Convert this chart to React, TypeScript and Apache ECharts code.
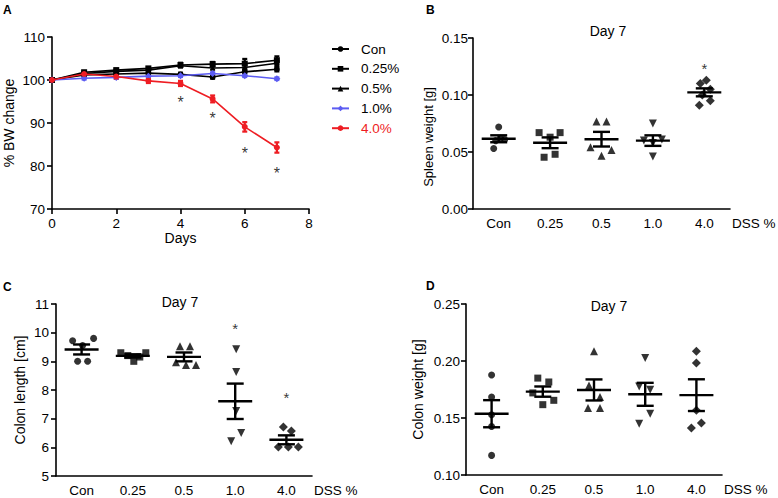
import React, { useEffect, useRef } from 'react';
import * as echarts from 'echarts';

const FONT = 'Arial, "Liberation Sans", Helvetica, sans-serif';
const RED = '#ee1d23';
const BLUE = '#5c5cf2';
const BLACK = '#000000';

// ---------- Panel A: body weight change ----------
const days = [0, 1, 2, 3, 4, 5, 6, 7];
const bwNames = ['Con', '0.25%', '0.5%', '1.0%', '4.0%'];
const bwCon = [100, 101.2, 101.4, 101.6, 101.3, 100.7, 101.9, 102.5];
const bw025 = [100, 101.8, 102.3, 102.7, 103.5, 103.7, 103.8, 104.6];
const bw05 = [100, 101.5, 102.0, 102.3, 103.3, 102.8, 102.9, 103.9];
const bw10 = [100, 100.4, 100.6, 100.9, 101.0, 101.5, 101.0, 100.3];
const bw40 = [100, 101.4, 100.8, 99.8, 99.2, 95.6, 89.1, 84.3];
const bwConErr = [0, 0.3, 0.3, 0.3, 0.4, 0.4, 0.4, 0.5];
const bw025Err = [0, 0.3, 0.3, 0.3, 0.5, 0.5, 1.1, 0.9];
const bw05Err = [0, 0.3, 0.3, 0.3, 0.4, 0.4, 0.5, 0.5];
const bw10Err = [0, 0.3, 0.3, 0.3, 0.3, 0.3, 0.3, 0.3];
const bw40Err = [0, 0.4, 0.5, 0.5, 0.6, 0.8, 1.1, 1.2];
const bwSigDays = [4, 5, 6, 7];
const bwSigPos = [95.6, 92.0, 83.9, 79.1];

// ---------- Panels B-D: day 7 column scatter ----------
const groups = ['Con', '0.25', '0.5', '1.0', '4.0'];

const spleenCon = [0.072, 0.053, 0.062, 0.061, 0.06];
const spleen025 = [0.067, 0.067, 0.063, 0.0454, 0.048];
const spleen05 = [0.0767, 0.0767, 0.0542, 0.0518, 0.0468];
const spleen10 = [0.075, 0.06, 0.061, 0.058, 0.046];
const spleen40 = [0.113, 0.11, 0.105, 0.1, 0.095, 0.091];
const spleenSigGroups = [4];
const spleenSigPos = [0.1265];

const lengthCon = [9.72, 9.8, 9.0, 9.0, 9.55];
const length025 = [9.3, 9.3, 9.2, 9.15, 9.0];
const length05 = [9.53, 9.53, 8.97, 8.87, 8.87];
const length10 = [9.42, 8.63, 7.27, 6.5, 6.21];
const length40 = [6.71, 6.57, 6.01, 6.01, 6.01];
const lengthSigGroups = [3, 4];
const lengthSigPos = [10.27, 7.88];

const cweightCon = [0.1877, 0.1684, 0.1529, 0.1426, 0.1172];
const cweight025 = [0.185, 0.1816, 0.172, 0.1655, 0.1617];
const cweight05 = [0.2085, 0.1786, 0.1684, 0.1588, 0.1588];
const cweight10 = [0.2026, 0.1777, 0.1748, 0.1538, 0.145];
const cweight40 = [0.2085, 0.1982, 0.1567, 0.1456, 0.1412];

// horizontal spread of the dots (pixels), as in the original scatter
const spleenJitter = [[0, -5, 2, 6, -3], [-11, 10, 0, -6, 5], [-5, 5, -11, 10, 0], [0, -9, 9, 0, 0], [2, -4, 6, -2, 6, -5]];
const lengthJitter = [[-9, 12, -4, 6, 1], [-12, 13, -5, 7, 1], [-4, 6, -8, 2, 12], [1, 1, 1, 6, -4], [-3, 5, -8, 2, 12]];
const cweightJitter = [[0, 0, 0, 0, 0], [-5, 6, -10, 11, 0], [0, -5, 6, -6, 6], [0, -6, 5, 5, -6], [0, 0, 0, 5, -5]];

const SYMBOLS = ['circle', 'rect', 'triangle', 'triangle', 'diamond'];
const SYMSIZE = [7, 7, 8, 8, 9];

const mean = (a: number[]) => a.reduce((s, v) => s + v, 0) / a.length;
const sem = (a: number[]) => {
  const m = mean(a);
  const v = a.reduce((s, x) => s + (x - m) * (x - m), 0) / (a.length - 1);
  return Math.sqrt(v) / Math.sqrt(a.length);
};

const axisLine = { show: true, onZero: false, lineStyle: { color: BLACK, width: 1.6 } };
const axisTick = { show: true, length: 5, lineStyle: { color: BLACK, width: 1.6 } };
const labelStyle = { color: BLACK, fontFamily: FONT, fontSize: 13.5 };
const nameStyle = { color: BLACK, fontFamily: FONT, fontSize: 14 };

function semRender(params: any, api: any) {
  const x = api.value(0);
  const m = api.value(1);
  const s = api.value(2);
  const pm = api.coord([x, m]);
  const ph = api.coord([x, m + s]);
  const pl = api.coord([x, m - s]);
  const style = { stroke: BLACK, lineWidth: 2.4 };
  return {
    type: 'group',
    children: [
      { type: 'line', shape: { x1: pm[0] - 17, y1: pm[1], x2: pm[0] + 17, y2: pm[1] }, style },
      { type: 'line', shape: { x1: ph[0], y1: ph[1], x2: pl[0], y2: pl[1] }, style },
      { type: 'line', shape: { x1: ph[0] - 8.5, y1: ph[1], x2: ph[0] + 8.5, y2: ph[1] }, style },
      { type: 'line', shape: { x1: pl[0] - 8.5, y1: pl[1], x2: pl[0] + 8.5, y2: pl[1] }, style },
    ],
  };
}

function errRender(color: string) {
  return (params: any, api: any) => {
    const x = api.value(0);
    const lo = api.coord([x, api.value(1)]);
    const hi = api.coord([x, api.value(2)]);
    const style = { stroke: color, lineWidth: 2.2 };
    return {
      type: 'group',
      children: [
        { type: 'line', shape: { x1: lo[0], y1: lo[1], x2: hi[0], y2: hi[1] }, style },
        { type: 'line', shape: { x1: lo[0] - 2.5, y1: lo[1], x2: lo[0] + 2.5, y2: lo[1] }, style },
        { type: 'line', shape: { x1: hi[0] - 2.5, y1: hi[1], x2: hi[0] + 2.5, y2: hi[1] }, style },
      ],
    };
  };
}

function sigSeries(xIdx: number, yIdx: number, xs: number[], ys: number[], size: number) {
  return {
    type: 'scatter',
    xAxisIndex: xIdx,
    yAxisIndex: yIdx,
    symbol: 'circle',
    symbolSize: 0.1,
    itemStyle: { color: 'rgba(0,0,0,0)' },
    silent: true,
    z: 5,
    label: {
      show: true,
      position: 'inside',
      formatter: '*',
      color: BLACK,
      fontFamily: FONT,
      fontSize: size,
      offset: [0, size * 0.24],
    },
    data: xs.map((x, i) => [x, ys[i]]),
  };
}

function columnPanel(idx: number, vals: number[][], jitter: number[][], sigGroups: number[], sigPos: number[]) {
  const points: any[] = [];
  vals.forEach((arr, gi) => {
    arr.forEach((v, j) => {
      points.push({
        value: [gi, v],
        symbol: SYMBOLS[gi],
        symbolSize: SYMSIZE[gi],
        symbolRotate: gi === 3 ? 180 : 0,
        symbolOffset: [jitter[gi][j], 0],
      });
    });
  });
  const stats = vals.map((arr, gi) => [gi, mean(arr), sem(arr)]);
  const out: any[] = [
    {
      type: 'scatter',
      xAxisIndex: idx,
      yAxisIndex: idx,
      itemStyle: { color: BLACK },
      data: points,
      z: 3,
    },
    {
      type: 'custom',
      xAxisIndex: idx,
      yAxisIndex: idx,
      renderItem: semRender,
      data: stats,
      z: 4,
    },
  ];
  if (sigGroups.length) out.push(sigSeries(idx, idx, sigGroups, sigPos, 15));
  return out;
}

const bwVals = [bwCon, bw025, bw05, bw10, bw40];
const bwErrs = [bwConErr, bw025Err, bw05Err, bw10Err, bw40Err];
const bwColors = [BLACK, BLACK, BLACK, BLUE, RED];
const bwSymbols = ['circle', 'rect', 'triangle', 'diamond', 'circle'];
const bwSymSize = [6, 6, 4, 7, 6];

function buildOption() {
  const series: any[] = [];
  bwVals.forEach((vals, i) => {
    series.push({
      type: 'custom',
      name: bwNames[i] + ' err',
      xAxisIndex: 0,
      yAxisIndex: 0,
      renderItem: errRender(bwColors[i]),
      data: days.map((d, k) => [d, vals[k] - bwErrs[i][k], vals[k] + bwErrs[i][k]]),
      z: 2 + i * 0.1,
    });
    series.push({
      type: 'line',
      name: bwNames[i],
      xAxisIndex: 0,
      yAxisIndex: 0,
      data: days.map((d, k) => [d, vals[k]]),
      symbol: bwSymbols[i],
      symbolSize: bwSymSize[i],
      showAllSymbol: true,
      color: bwColors[i],
      lineStyle: { color: bwColors[i], width: 1.6 },
      itemStyle: { color: bwColors[i] },
      z: 3 + i * 0.1,
    });
  });
  series.push(sigSeries(0, 0, bwSigDays, bwSigPos, 16));

  series.push(...columnPanel(1, [spleenCon, spleen025, spleen05, spleen10, spleen40], spleenJitter, spleenSigGroups, spleenSigPos));
  series.push(...columnPanel(2, [lengthCon, length025, length05, length10, length40], lengthJitter, lengthSigGroups, lengthSigPos));
  series.push(...columnPanel(3, [cweightCon, cweight025, cweight05, cweight10, cweight40], cweightJitter, [], []));

  const catAxis = (gi: number) => ({
    type: 'category',
    gridIndex: gi,
    data: groups,
    boundaryGap: true,
    axisLine,
    axisTick: { show: false },
    axisLabel: { ...labelStyle, margin: 7 },
    splitLine: { show: false },
    name: 'DSS %',
    nameLocation: 'end',
    nameGap: 2,
    nameTextStyle: { ...labelStyle, fontSize: 13.5, verticalAlign: 'top', align: 'left', padding: [7, 0, 0, 0] },
  });

  const valY = (gi: number, min: number, max: number, interval: number, name: string, gap: number, digits: number, margin: number) => ({
    type: 'value',
    gridIndex: gi,
    min,
    max,
    interval,
    axisLine,
    axisTick,
    splitLine: { show: false },
    axisLabel: { ...labelStyle, margin, formatter: (v: number) => v.toFixed(digits) },
    name,
    nameLocation: 'middle',
    nameRotate: 90,
    nameGap: gap,
    nameTextStyle: nameStyle,
  });

  const textEl = (x: number, y: number, text: string, size: number, bold = false, align = 'center', rotation = 0) => ({
    type: 'text',
    x,
    y,
    rotation,
    silent: true,
    style: {
      text,
      fill: BLACK,
      fontFamily: FONT,
      fontSize: size,
      fontWeight: bold ? 'bold' : 'normal',
      align,
      verticalAlign: 'middle',
      textAlign: align,
      textVerticalAlign: 'middle',
    },
  });

  return {
    animation: false,
    backgroundColor: '#ffffff',
    textStyle: { fontFamily: FONT },
    grid: [
      { left: 52, top: 37, width: 257, height: 172 },
      { left: 473, top: 38, width: 257, height: 171 },
      { left: 56, top: 304, width: 256, height: 172 },
      { left: 466, top: 304, width: 256, height: 171 },
    ],
    legend: {
      orient: 'vertical',
      left: 326,
      top: 37,
      itemWidth: 17,
      itemHeight: 7,
      itemGap: 5.8,
      selectedMode: false,
      textStyle: { color: BLACK, fontFamily: FONT, fontSize: 13.5, lineHeight: 14, padding: [0, 0, 0, 7] },
      data: [
        { name: 'Con' },
        { name: '0.25%' },
        { name: '0.5%' },
        { name: '1.0%' },
        { name: '4.0%', textStyle: { color: RED } },
      ],
    },
    xAxis: [
      {
        type: 'value',
        gridIndex: 0,
        min: 0,
        max: 8,
        interval: 2,
        axisLine,
        axisTick,
        splitLine: { show: false },
        axisLabel: { ...labelStyle, margin: 7 },
        name: 'Days',
        nameLocation: 'middle',
        nameGap: 22,
        nameTextStyle: nameStyle,
      },
      catAxis(1),
      catAxis(2),
      catAxis(3),
    ],
    yAxis: [
      valY(0, 70, 110, 10, '% BW change', 36, 0, 7),
      valY(1, 0, 0.15, 0.05, '', 38, 2, 5),
      valY(2, 5, 11, 1, 'Colon length [cm]', 29, 0, 7),
      valY(3, 0.1, 0.25, 0.05, 'Colon weight [g]', 41, 2, 6),
    ],
    graphic: [
      textEl(3, 10, 'A', 12, true, 'left'),
      textEl(426, 10, 'B', 12, true, 'left'),
      textEl(3, 287, 'C', 12, true, 'left'),
      textEl(426, 286, 'D', 12, true, 'left'),
      textEl(608, 31, 'Day 7', 14),
      textEl(180, 302, 'Day 7', 14),
      textEl(609, 306, 'Day 7', 14),
      textEl(428, 137, 'Spleen weight [g]', 13, false, 'center', Math.PI / 2),
    ],
    series,
  };
}

export default function App() {
  const ref = useRef<HTMLDivElement>(null);
  useEffect(() => {
    if (!ref.current) return;
    const chart = echarts.init(ref.current, null, { renderer: 'svg' });
    chart.setOption(buildOption() as any);
    return () => chart.dispose();
  }, []);
  return (
    <div
      ref={ref}
      style={{ position: 'absolute', left: 0, top: 0, width: 778, height: 498, background: '#fff' }}
    />
  );
}
